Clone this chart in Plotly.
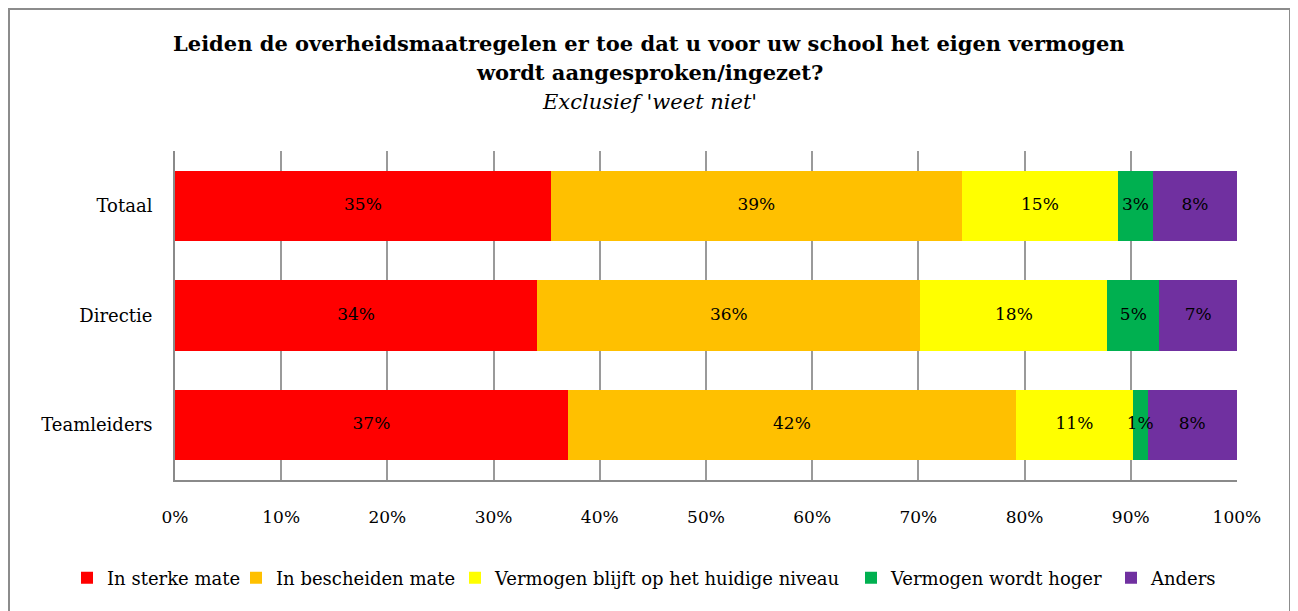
import plotly.graph_objects as go

groups = ["Totaal", "Directie", "Teamleiders"]
series_names = ["In sterke mate", "In bescheiden mate", "Vermogen blijft op het huidige niveau",
                "Vermogen wordt hoger", "Anders"]
sterke = [35.4, 34.1, 37.0]
bescheiden = [38.7, 36.1, 42.2]
blijft = [14.7, 17.6, 11.0]
hoger = [3.3, 4.9, 1.4]
anders = [7.9, 7.3, 8.4]
colors = ["#FF0000", "#FFC000", "#FFFF00", "#00B050", "#7030A0"]
xticks = [0, 10, 20, 30, 40, 50, 60, 70, 80, 90, 100]
xticklabels = [f"{v}%" for v in xticks]

FONT = "DejaVu Serif"
W, H = 1284, 611
L, T = 167, 143
PR, PB = 1229, 472
R, B = W - PR, H - PB
pw, ph = W - L - R, H - T - B

# legend text start positions (layout px)
legend_text_x = [99, 268, 487, 883, 1143]
legend_ids = ["legend", "legend2", "legend3", "legend4", "legend5"]

all_series = [sterke, bescheiden, blijft, hoger, anders]

fig = go.Figure()
for i, (name, vals, col) in enumerate(zip(series_names, all_series, colors)):
    fig.add_trace(go.Bar(
        y=groups, x=vals, name=name, orientation="h",
        marker=dict(color=col, line=dict(width=0)),
        hoverinfo="x+y+name",
        legend=legend_ids[i],
    ))

# data labels on top of all bars (segment centres from the cumulative data)
cum = [0.0] * len(groups)
for vals in all_series:
    centers = [c + v / 2 for c, v in zip(cum, vals)]
    fig.add_trace(go.Scatter(
        x=centers, y=groups, mode="text",
        text=[f"{round(v)}%" for v in vals],
        textposition="middle center",
        textfont=dict(family=FONT, size=17, color="black"),
        showlegend=False, hoverinfo="skip", cliponaxis=False,
    ))
    cum = [c + v for c, v in zip(cum, vals)]

legend_common = dict(orientation="h", xanchor="left", xref="container",
                     y=1 - 570 / H, yanchor="middle", yref="container",
                     font=dict(family=FONT, size=18), itemwidth=30,
                     bgcolor="rgba(0,0,0,0)")
layout_legends = {}
for lid, tx in zip(legend_ids, legend_text_x):
    layout_legends[lid] = dict(legend_common, x=(tx - 40) / W)

fig.update_layout(
    width=W, height=H,
    barmode="stack", bargap=0.36,
    margin=dict(l=L, r=R, t=T, b=B, autoexpand=False),
    paper_bgcolor="white", plot_bgcolor="white",
    font=dict(family=FONT, size=17, color="black"),
    showlegend=True,
    **layout_legends,
)

fig.update_xaxes(range=[0, 100.01], tickvals=xticks, ticktext=xticklabels,
                 showgrid=True, gridcolor="#9a9a9a", gridwidth=1.5,
                 showline=True, linecolor="#8a8a8a", linewidth=2,
                 zeroline=False, ticks="", ticklabelstandoff=21, automargin=False,
                 tickfont=dict(family=FONT, size=17))
fig.update_yaxes(categoryorder="array", categoryarray=groups, autorange="reversed",
                 showline=True, linecolor="#8a8a8a", linewidth=2, ticks="",
                 ticklabelstandoff=17, automargin=False, tickfont=dict(family=FONT, size=18))

cx = (641 - L) / pw
def py(y):
    return 1 + (T - y) / ph

fig.add_annotation(text="<b>Leiden de overheidsmaatregelen er toe dat u voor uw school het eigen vermogen</b>",
                   xref="paper", yref="paper", x=cx, y=py(36),
                   showarrow=False, font=dict(family=FONT, size=21), xanchor="center", yanchor="middle")
fig.add_annotation(text="<b>wordt aangesproken/ingezet?</b>",
                   xref="paper", yref="paper", x=cx, y=py(65),
                   showarrow=False, font=dict(family=FONT, size=21), xanchor="center", yanchor="middle")
fig.add_annotation(text="<i>Exclusief 'weet niet'</i>",
                   xref="paper", yref="paper", x=cx, y=py(94),
                   showarrow=False, font=dict(family=FONT, size=21), xanchor="center", yanchor="middle")

# Chart area border
fig.add_shape(type="rect", xref="paper", yref="paper",
              x0=(1 - L) / pw, x1=(1282 - L) / pw,
              y0=py(H + 10), y1=py(1),
              line=dict(color="#8c8c8c", width=2), fillcolor="rgba(0,0,0,0)", layer="below")

fig.write_html("out.html")
